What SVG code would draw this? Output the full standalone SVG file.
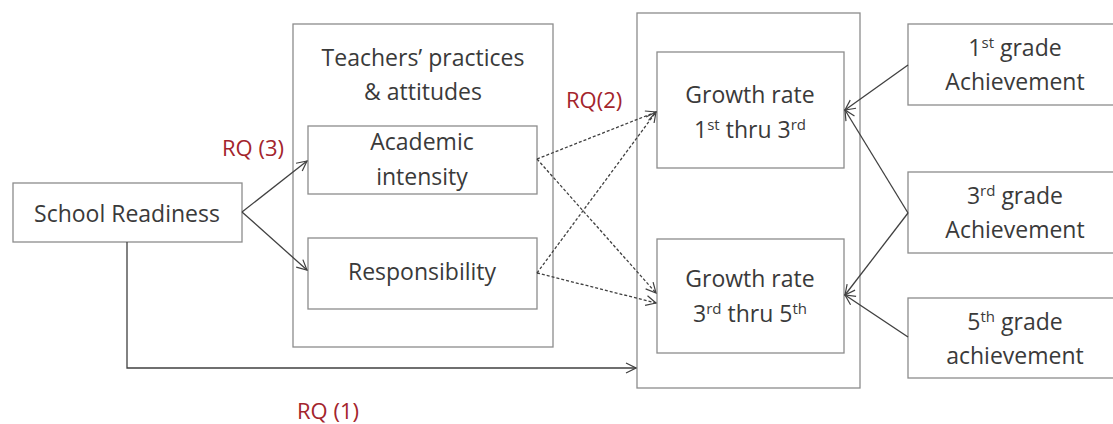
<svg xmlns="http://www.w3.org/2000/svg" width="1113" height="424" viewBox="0 0 1113 424">
  <defs>
    <marker id="arrow" markerWidth="12" markerHeight="12" refX="11" refY="6" orient="auto" markerUnits="userSpaceOnUse">
      <path d="M1,1 L11,6 L1,11" fill="none" stroke="#404040" stroke-width="1.2"/>
    </marker>
    <style>
      .box { fill: #fff; stroke: #8c8c8c; stroke-width: 1.3; }
      .frame { fill: none; stroke: #8c8c8c; stroke-width: 1.3; }
      .lbl { font-family: "Open Sans", "Noto Sans", sans-serif; font-size: 23px; fill: #3a3a3a; text-anchor: middle; }
      .rq { font-family: "Open Sans", "Noto Sans", sans-serif; font-size: 22px; fill: #a3242c; }
      .sup { font-size: 15px; }
      .solid { fill: none; stroke: #404040; stroke-width: 1.3; }
      .dash { fill: none; stroke: #404040; stroke-width: 1.3; stroke-dasharray: 3 2; }
    </style>
  </defs>

  <rect width="1113" height="424" fill="#fff"/>

  <!-- outer frames -->
  <g id="teachers">
    <rect class="frame" x="293" y="24" width="260" height="323"/>
    <text class="lbl" x="423" y="66">Teachers’ practices</text>
    <text class="lbl" x="423" y="100">&amp; attitudes</text>
  </g>
  <g id="growth">
    <rect class="frame" x="637" y="13" width="223" height="375"/>
  </g>

  <g id="school-readiness">
    <rect class="box" x="13" y="183" width="229" height="59"/>
    <text class="lbl" x="127" y="222">School Readiness</text>
  </g>

  <g id="academic-intensity">
    <rect class="box" x="308" y="126" width="229" height="68"/>
    <text class="lbl" x="422" y="150">Academic</text>
    <text class="lbl" x="422" y="185">intensity</text>
  </g>

  <g id="responsibility">
    <rect class="box" x="308" y="238" width="229" height="71"/>
    <text class="lbl" x="422" y="280">Responsibility</text>
  </g>

  <g id="growth-1-3">
    <rect class="box" x="657" y="52" width="187" height="116"/>
    <text class="lbl" x="750" y="103">Growth rate</text>
    <text class="lbl" x="750" y="138">1<tspan class="sup" dy="-8">st</tspan><tspan dy="8"> thru 3</tspan><tspan class="sup" dy="-8">rd</tspan></text>
  </g>

  <g id="growth-3-5">
    <rect class="box" x="657" y="239" width="187" height="114"/>
    <text class="lbl" x="750" y="287">Growth rate</text>
    <text class="lbl" x="750" y="322">3<tspan class="sup" dy="-8">rd</tspan><tspan dy="8"> thru 5</tspan><tspan class="sup" dy="-8">th</tspan></text>
  </g>

  <g id="grade1">
    <rect class="box" x="908" y="24" width="215" height="81"/>
    <text class="lbl" x="1015" y="56">1<tspan class="sup" dy="-8">st</tspan><tspan dy="8"> grade</tspan></text>
    <text class="lbl" x="1015" y="90">Achievement</text>
  </g>

  <g id="grade3">
    <rect class="box" x="908" y="172" width="215" height="81"/>
    <text class="lbl" x="1015" y="204">3<tspan class="sup" dy="-8">rd</tspan><tspan dy="8"> grade</tspan></text>
    <text class="lbl" x="1015" y="238">Achievement</text>
  </g>

  <g id="grade5">
    <rect class="box" x="908" y="298" width="215" height="80"/>
    <text class="lbl" x="1015" y="330">5<tspan class="sup" dy="-8">th</tspan><tspan dy="8"> grade</tspan></text>
    <text class="lbl" x="1015" y="364">achievement</text>
  </g>

  <!-- connectors -->
  <g id="connectors">
    <path class="solid" d="M242,212 L307,161" marker-end="url(#arrow)"/>
    <path class="solid" d="M242,212 L307,270" marker-end="url(#arrow)"/>
    <path class="solid" d="M127,242 L127,368 L636,368" marker-end="url(#arrow)"/>

    <path class="dash" d="M537,159 L656,112" marker-end="url(#arrow)"/>
    <path class="dash" d="M537,159 L656,293" marker-end="url(#arrow)"/>
    <path class="dash" d="M537,273 L656,112" marker-end="url(#arrow)"/>
    <path class="dash" d="M537,273 L656,303" marker-end="url(#arrow)"/>

    <path class="solid" d="M908,65 L845,110" marker-end="url(#arrow)"/>
    <path class="solid" d="M908,213 L845,110" marker-end="url(#arrow)"/>
    <path class="solid" d="M908,213 L845,295" marker-end="url(#arrow)"/>
    <path class="solid" d="M908,337 L845,295" marker-end="url(#arrow)"/>
  </g>

  <g id="labels">
    <text class="rq" x="222" y="156">RQ (3)</text>
    <text class="rq" x="566" y="108">RQ(2)</text>
    <text class="rq" x="297" y="419">RQ (1)</text>
  </g>
</svg>
